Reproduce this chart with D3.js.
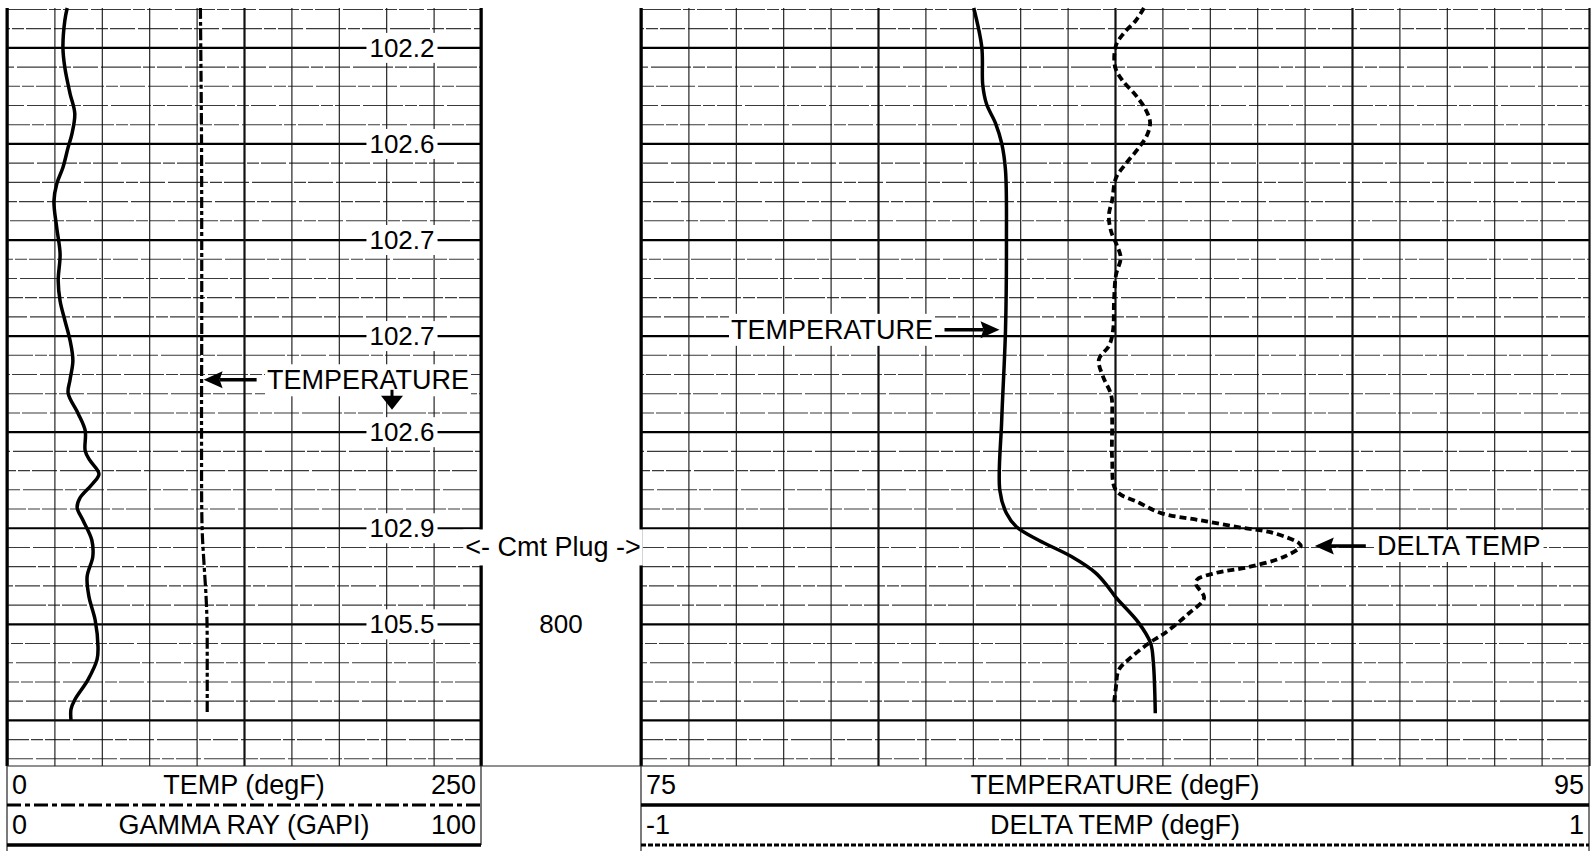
<!DOCTYPE html>
<html>
<head>
<meta charset="utf-8">
<script src="https://cdn.jsdelivr.net/npm/d3@7/dist/d3.min.js"></script>
<style>
    body { margin: 0; background: #fff; }
    svg { display: block; font-family: 'Liberation Sans', Arial, sans-serif; }
</style>
</head>
<body>
<div class="chart-container"></div>
<script>
// curve data (depth in ft)
const gammaDepth = [735.9, 737.2, 740.0, 742.1, 744.8, 746.9, 749.0, 750.4, 752.5, 754.2, 756.0, 758.8, 761.5, 764.3, 766.4, 768.4, 770.5, 772.6, 774.6, 776.0, 778.1, 779.9, 782.0, 783.0, 784.4, 785.4, 786.9, 787.9, 789.2, 791.3, 793.0, 795.1, 797.2, 799.6, 802.4, 803.7, 805.8, 807.9, 808.9, 810.0];
const gammaValue = [12.7, 12.2, 11.8, 12.2, 13.3, 14.3, 13.7, 12.9, 11.8, 10.5, 9.9, 10.5, 11.2, 10.8, 11.2, 12.2, 13.3, 13.9, 13.3, 12.9, 15.0, 16.5, 16.5, 17.5, 19.4, 18.1, 15.4, 14.8, 16.0, 17.9, 18.1, 16.9, 17.3, 18.6, 19.2, 19.0, 17.1, 14.3, 13.5, 13.5];

const tempLeftDepth = [735.9, 740, 750, 760, 770, 780, 790, 793.7, 797.2, 800, 805, 809.2];
const tempLeftValue = [102.0, 102.2, 102.6, 102.7, 102.7, 102.6, 102.9, 103.9, 105.0, 105.5, 105.6, 105.6];

const tempDepth = [735.9, 740.0, 743.9, 745.9, 747.9, 750.0, 752.8, 760.1, 769.4, 778.8, 786.1, 788.5, 789.9, 791.3, 793.0, 794.7, 796.2, 797.2, 799.9, 802.0, 804.1, 809.3];
const tempValue = [82.02, 82.19, 82.21, 82.29, 82.48, 82.61, 82.69, 82.71, 82.69, 82.61, 82.57, 82.71, 82.92, 83.39, 84.08, 84.59, 84.86, 85.01, 85.50, 85.75, 85.81, 85.85];

const deltaDepth = [735.9, 737.2, 738.5, 739.8, 742.0, 743.4, 745.0, 746.5, 747.8, 749.1, 750.4, 752.1, 753.6, 755.9, 757.5, 759.2, 760.6, 761.9, 763.7, 766.3, 769.4, 771.0, 772.5, 774.3, 776.2, 778.8, 782.9, 786.1, 787.4, 788.5, 789.2, 790.0, 790.5, 791.6, 791.9, 793.0, 794.1, 794.7, 795.4, 795.9, 797.3, 798.9, 800.9, 802.0, 803.4, 804.8, 806.6, 808.2];
const deltaValue = [0.061, 0.044, 0.019, 0.002, 0.0, 0.015, 0.044, 0.065, 0.074, 0.068, 0.051, 0.023, 0.002, -0.006, -0.013, -0.008, 0.004, 0.012, 0.002, -0.002, -0.004, -0.012, -0.034, -0.025, -0.008, -0.006, -0.006, 0.002, 0.051, 0.099, 0.177, 0.268, 0.331, 0.388, 0.392, 0.358, 0.281, 0.213, 0.173, 0.171, 0.188, 0.156, 0.107, 0.072, 0.036, 0.008, 0.002, -0.002];

// readouts printed at each 10 ft line of track 1
const readoutDepth = [740, 750, 760, 770, 780, 790, 800];
const readoutText = ['102.2', '102.6', '102.7', '102.7', '102.6', '102.9', '105.5'];

// depth track labels
const depthLabelValue = [800];
const plugDepth = 792;

// scale ranges and grid ticks
const depthDomain = [735.9, 814.8];
const leftTempDomain = [0, 250];
const gammaDomain = [0, 100];
const rightTempDomain = [75, 95];
const deltaDomain = [-1, 1];
const leftGridTicks = [0, 25, 50, 75, 100, 125, 150, 175, 200, 225, 250];
const leftHeavyTicks = [0, 125, 250];
const rightGridTicks = [75, 76, 77, 78, 79, 80, 81, 82, 83, 84, 85, 86, 87, 88, 89, 90, 91, 92, 93, 94, 95];
const rightHeavyTicks = [75, 80, 85, 90, 95];
const depthHeavyTicks = [740, 750, 760, 770, 780, 790, 800, 810];
const depthMinorTicks = d3.range(736, 815, 2).filter(d => d % 10 !== 0);

const zip = (ds, vs) => ds.map((d, i) => ({ depth: d, value: vs[i] }));

// layout
const W = 1591, H = 851;
const track1 = { x0: 7, x1: 481 };
const track3 = { x0: 641, x1: 1589 };
const gridTop = 8, gridBottom = 766;
const fontSize = 26;
const labelSize = 27;

// scales
const yScale = d3.scaleLinear().domain(depthDomain).range([gridTop, gridBottom]);
const xLeftTemp = d3.scaleLinear().domain(leftTempDomain).range([track1.x0, track1.x1]);
const xGamma = d3.scaleLinear().domain(gammaDomain).range([track1.x0, track1.x1]);
const xTemp = d3.scaleLinear().domain(rightTempDomain).range([track3.x0, track3.x1]);
const xDelta = d3.scaleLinear().domain(deltaDomain).range([track3.x0, track3.x1]);

const svg = d3.select('.chart-container')
    .append('svg')
    .attr('width', W)
    .attr('height', H)
    .style('font-size', fontSize + 'px');

svg.append('rect').attr('width', W).attr('height', H).attr('fill', '#fff');

// grid for one track
function drawGrid(xScale, ticks, heavy) {
    const [x0, x1] = xScale.range();
    const g = svg.append('g').attr('class', 'grid');

    const minorY = d3.axisLeft(yScale)
        .tickValues(depthMinorTicks)
        .tickSize(-(x1 - x0))
        .tickFormat('');
    g.append('g')
        .attr('transform', `translate(${x0},0)`)
        .call(minorY)
        .call(a => a.select('.domain').remove())
        .selectAll('line')
        .attr('stroke', '#3a3a3a')
        .attr('stroke-width', 1.1)
        .attr('stroke-dasharray', '40,2,12,2,25,3')
        .attr('stroke-dashoffset', (d, i) => (i * 37) % 84);

    const heavyY = d3.axisLeft(yScale)
        .tickValues(depthHeavyTicks)
        .tickSize(-(x1 - x0))
        .tickFormat('');
    g.append('g')
        .attr('transform', `translate(${x0},0)`)
        .call(heavyY)
        .call(a => a.select('.domain').remove())
        .selectAll('line')
        .attr('stroke', '#000')
        .attr('stroke-width', 2.2);

    const xAxis = d3.axisTop(xScale)
        .tickValues(ticks)
        .tickSize(-(gridBottom - gridTop))
        .tickFormat('');
    g.append('g')
        .attr('transform', `translate(0,${gridTop})`)
        .call(xAxis)
        .call(a => a.select('.domain').remove())
        .selectAll('line')
        .attr('stroke', '#111')
        .attr('stroke-width', d => heavy.includes(d) ? 2.2 : 1.1);
}

drawGrid(xLeftTemp, leftGridTicks, leftHeavyTicks);
drawGrid(xTemp, rightGridTicks, rightHeavyTicks);

// track borders
[track1.x0, track1.x1, track3.x0].forEach(x => {
    svg.append('line')
        .attr('x1', x).attr('x2', x)
        .attr('y1', gridTop).attr('y2', gridBottom)
        .attr('stroke', '#000')
        .attr('stroke-width', 3);
});

// text with a white backing so it cuts through the grid
function boxedText(x, y, text, anchor, padX, padY, size) {
    const g = svg.append('g');
    const rect = g.append('rect').attr('fill', '#fff');
    const t = g.append('text')
        .attr('x', x)
        .attr('y', y)
        .attr('text-anchor', anchor)
        .attr('fill', '#000')
        .style('font-size', (size || fontSize) + 'px')
        .text(text);
    const bb = t.node().getBBox();
    rect.attr('x', bb.x - padX).attr('y', bb.y - padY)
        .attr('width', bb.width + 2 * padX).attr('height', bb.height + 2 * padY);
    return t;
}

// readouts in track 1
readoutDepth.forEach((d, i) => {
    boxedText(402, yScale(d) + 9.5, readoutText[i], 'middle', 3, 0);
});

// depth track
depthLabelValue.forEach(d => {
    svg.append('text')
        .attr('x', (track1.x1 + track3.x0) / 2)
        .attr('y', yScale(d) + 9.5)
        .attr('text-anchor', 'middle')
        .text(d);
});
boxedText(553, yScale(plugDepth) + 9.5, '<- Cmt Plug ->', 'middle', 2, 3, labelSize);

// curves
const lineGen = xScale => d3.line()
    .x(d => xScale(d.value))
    .y(d => yScale(d.depth))
    .curve(d3.curveCatmullRom.alpha(0.5));

const styles = {
    gamma: { width: 3.5, dash: null },
    tempLeft: { width: 3.2, dash: '11,3,4,3' },
    temp: { width: 3.5, dash: null },
    delta: { width: 3.8, dash: '7,4' }
};

const series = [
    { key: 'gamma', data: zip(gammaDepth, gammaValue), x: xGamma },
    { key: 'tempLeft', data: zip(tempLeftDepth, tempLeftValue), x: xLeftTemp },
    { key: 'temp', data: zip(tempDepth, tempValue), x: xTemp },
    { key: 'delta', data: zip(deltaDepth, deltaValue), x: xDelta }
];

svg.append('g')
    .attr('class', 'curves')
    .selectAll('path')
    .data(series)
    .enter()
        .append('path')
        .attr('d', d => lineGen(d.x)(d.data))
        .attr('fill', 'none')
        .attr('stroke', '#000')
        .attr('stroke-width', d => styles[d.key].width)
        .attr('stroke-dasharray', d => styles[d.key].dash)
        .attr('stroke-linejoin', 'round');

// annotations
function arrow(tipX, tipY, dir, len) {
    // dir: 1 points right, -1 points left
    const head = 19, half = 8.5;
    const baseX = tipX - dir * head;
    svg.append('path')
        .attr('d', `M${tipX},${tipY}L${baseX},${tipY - half}L${baseX + dir * 3},${tipY}L${baseX},${tipY + half}Z`)
        .attr('fill', '#000');
    svg.append('line')
        .attr('x1', baseX + dir * 3).attr('x2', baseX - dir * len)
        .attr('y1', tipY).attr('y2', tipY)
        .attr('stroke', '#000')
        .attr('stroke-width', 3.5);
}

// track 1 temperature pointer
const t1Depth = 774.6;
const t1Y = yScale(t1Depth);
const t1X = xLeftTemp(102.65) + 2;
arrow(t1X, t1Y, -1, 34);
boxedText(267, t1Y + 9.5, 'TEMPERATURE', 'start', 2, 1, labelSize);
svg.append('line')
    .attr('x1', 392).attr('x2', 392)
    .attr('y1', t1Y + 10).attr('y2', t1Y + 18)
    .attr('stroke', '#000').attr('stroke-width', 3);
svg.append('path')
    .attr('d', `M392,${t1Y + 30}L381,${t1Y + 16}L403,${t1Y + 16}Z`)
    .attr('fill', '#000');

// track 3 temperature pointer
const t3Depth = 769.4;
const t3Y = yScale(t3Depth);
const t3X = xTemp(82.69) - 6;
arrow(t3X, t3Y, 1, 36);
boxedText(731, t3Y + 9, 'TEMPERATURE', 'start', 2, 1, labelSize);

// delta temp pointer at the peak
const peakIdx = d3.maxIndex(deltaValue);
const dY = yScale(deltaDepth[peakIdx]);
const dX = xDelta(deltaValue[peakIdx]) + 14;
arrow(dX, dY, -1, 32);
boxedText(1377, dY + 9, 'DELTA TEMP', 'start', 3, 1, labelSize);

// header boxes
const hdr = svg.append('g').attr('class', 'header').style('font-size', labelSize + 'px');
const row1 = 794, row2 = 834, sep = 805, bottom = 845;

hdr.append('line')
    .attr('x1', track1.x0).attr('x2', track3.x1)
    .attr('y1', gridBottom).attr('y2', gridBottom)
    .attr('stroke', '#222').attr('stroke-width', 1.2);

[track1.x0, track1.x1, track3.x0, track3.x1].forEach(x => {
    hdr.append('line')
        .attr('x1', x).attr('x2', x)
        .attr('y1', gridBottom).attr('y2', x === track1.x1 ? bottom : H)
        .attr('stroke', '#222').attr('stroke-width', 1.2);
});

function headerRow(track, y, lineY, style, domain, name) {
    hdr.append('text').attr('x', track.x0 + 5).attr('y', y).text(domain[0]);
    hdr.append('text').attr('x', (track.x0 + track.x1) / 2).attr('y', y)
        .attr('text-anchor', 'middle').text(name);
    hdr.append('text').attr('x', track.x1 - 5).attr('y', y)
        .attr('text-anchor', 'end').text(domain[1]);
    hdr.append('line')
        .attr('x1', track.x0).attr('x2', track.x1)
        .attr('y1', lineY).attr('y2', lineY)
        .attr('stroke', '#000')
        .attr('stroke-width', style.width)
        .attr('stroke-dasharray', style.dash);
}

headerRow(track1, row1, sep, { width: 3.2, dash: '14,4,5,4' }, leftTempDomain, 'TEMP (degF)');
headerRow(track1, row2, bottom, styles.gamma, gammaDomain, 'GAMMA RAY (GAPI)');
headerRow(track3, row1, sep, styles.temp, rightTempDomain, 'TEMPERATURE (degF)');
headerRow(track3, row2, bottom, { width: 3.2, dash: '5,2' }, deltaDomain, 'DELTA TEMP (degF)');
</script>
</body>
</html>
